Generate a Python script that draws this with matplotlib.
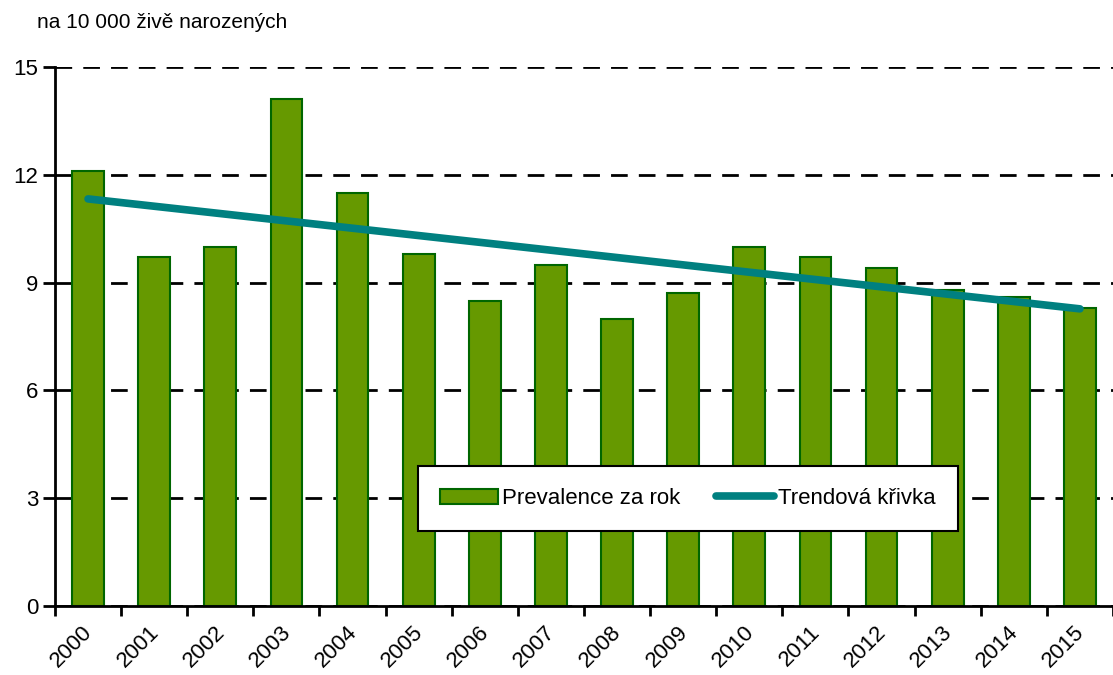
import numpy as np
import matplotlib
matplotlib.use("Agg")
import matplotlib.pyplot as plt
import matplotlib.transforms as mtransforms
from matplotlib.lines import Line2D
from matplotlib.patches import Patch

# Data
years = ["2000", "2001", "2002", "2003", "2004", "2005", "2006", "2007",
         "2008", "2009", "2010", "2011", "2012", "2013", "2014", "2015"]
prevalence = [12.1, 9.7, 10.0, 14.1, 11.5, 9.8, 8.5, 9.5,
              8.0, 8.7, 10.0, 9.7, 9.4, 8.8, 8.6, 8.3]
# linear trend, end points
trend_pos = [0, 15]
trend_values = [11.33, 8.27]
y_ticks = [0, 3, 6, 9, 12, 15]

plt.rcParams["font.family"] = ["Liberation Sans", "DejaVu Sans"]

fig = plt.figure(figsize=(11.13, 6.75), dpi=100)
ax = fig.add_axes([0.0494, 0.1022, 0.9506, 0.7985])

x = np.arange(len(years))
ax.bar(x, prevalence, width=0.48, color="#669900", edgecolor="#006600",
       linewidth=1.5, zorder=3, label="Prevalence za rok")
ax.plot(trend_pos, trend_values, color="#008080", linewidth=5.5,
        solid_capstyle="round", zorder=4, label="Trendová křivka")

ax.set_xlim(-0.5, len(years) - 0.5)
ax.set_ylim(0, 15)
ax.set_yticks(y_ticks)
ax.set_yticklabels([str(v) for v in y_ticks], fontsize=16)

# labels at bar centres, tick marks at category boundaries
ax.set_xticks(x)
ax.set_xticklabels(years, rotation=45, ha="right", rotation_mode="anchor",
                   fontsize=16)
ax.tick_params(axis="x", which="major", length=0, pad=11)
shift = mtransforms.ScaledTranslation(-6 / 100, 0, fig.dpi_scale_trans)
for lbl in ax.get_xticklabels():
    lbl.set_transform(lbl.get_transform() + shift)
ax.set_xticks(np.arange(-0.5, len(years), 1.0), minor=True)
ax.tick_params(axis="x", which="minor", length=7, width=2, direction="out")
ax.tick_params(axis="y", length=9, width=2, pad=3)

ax.yaxis.grid(True, linestyle=(0, (6, 4)), color="black", linewidth=2, zorder=0)
ax.set_axisbelow(True)

for s in ["top", "right"]:
    ax.spines[s].set_visible(False)
for s in ["left", "bottom"]:
    ax.spines[s].set_linewidth(2)
    ax.spines[s].set_zorder(5)

fig.text(0.033, 0.967, "na 10 000 živě narozených", fontsize=15, va="center")

handles = [Patch(facecolor="#669900", edgecolor="#006600", linewidth=1.5),
           Line2D([0], [0], color="#008080", linewidth=5.5, solid_capstyle="round")]
leg = ax.legend(handles, ["Prevalence za rok", "Trendová křivka"], ncol=2,
                loc="center", bbox_to_anchor=(0.598, 0.199), fontsize=16,
                frameon=True, fancybox=False, edgecolor="black", framealpha=1,
                handlelength=2.6, handleheight=0.7, handletextpad=0.2,
                columnspacing=1.6, borderpad=1.0)
leg.get_frame().set_linewidth(1.5)
leg.set_zorder(6)

plt.savefig("out.png", dpi=100)
